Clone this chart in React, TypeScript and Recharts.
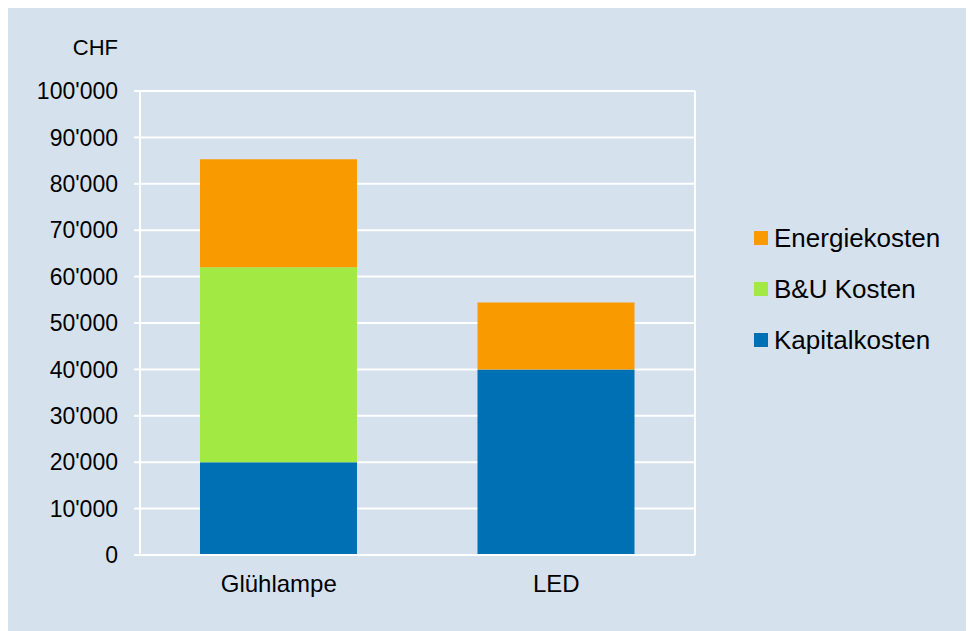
import React from 'react';
import { BarChart, Bar, XAxis, YAxis, CartesianGrid, Label } from 'recharts';

const categories = ['Glühlampe', 'LED'];
const kapitalkosten = [20000, 40000];
const buKosten = [42000, 0];
const energiekosten = [23300, 14400];
const yTicks = [0, 10000, 20000, 30000, 40000, 50000, 60000, 70000, 80000, 90000, 100000];
const unitLabel = 'CHF';

const seriesDefs = [
  { key: 'kapital', name: 'Kapitalkosten', color: '#0070b4', values: kapitalkosten },
  { key: 'bu', name: 'B&U Kosten', color: '#a3e943', values: buKosten },
  { key: 'energie', name: 'Energiekosten', color: '#f99a00', values: energiekosten },
];

const data = categories.map((c, i) => {
  const row: Record<string, string | number> = { name: c };
  seriesDefs.forEach((s) => {
    row[s.key] = s.values[i];
  });
  return row;
});

const FONT = '"Liberation Sans", Arial, sans-serif';

const fmt = (v: number) => (v === 0 ? '0' : `${Math.round(v / 1000)}'000`);

export default function App() {
  return (
    <div style={{ position: 'relative', width: 966, height: 623, background: '#d6e1ee', fontFamily: FONT }}>
      <style>{`body{overflow:hidden}`}</style>
      <BarChart
        width={966}
        height={623}
        data={data}
        margin={{ top: 83, right: 279, left: 0, bottom: 16 }}
      >
        <CartesianGrid
          stroke="#ffffff"
          strokeWidth={2}
          vertical={true}
          verticalCoordinatesGenerator={({ offset }: any) => [offset.left, offset.left + offset.width]}
        />
        <XAxis
          dataKey="name"
          height={60}
          tickLine={false}
          tickSize={0}
          tickMargin={20}
          axisLine={{ stroke: '#ffffff', strokeWidth: 2 }}
          tick={{ fill: '#000', fontSize: 24, fontFamily: FONT }}
        />
        <YAxis
          width={132}
          domain={[0, 100000]}
          ticks={yTicks}
          interval={0}
          tickFormatter={fmt}
          tickSize={6}
          tickMargin={16}
          tickLine={{ stroke: '#ffffff', strokeWidth: 2 }}
          axisLine={{ stroke: '#ffffff', strokeWidth: 2 }}
          tick={{ fill: '#000', fontSize: 23, fontFamily: FONT }}
        >
          <Label
            content={({ viewBox }: any) => (
              <text
                x={viewBox.x + viewBox.width - 22}
                y={viewBox.y - 44}
                textAnchor="end"
                dominantBaseline="central"
                fill="#000"
                fontSize={22}
                fontFamily={FONT}
              >
                {unitLabel}
              </text>
            )}
          />
        </YAxis>
        {seriesDefs.map((s) => (
          <Bar
            key={s.key}
            dataKey={s.key}
            name={s.name}
            stackId="a"
            fill={s.color}
            barSize={157}
            isAnimationActive={false}
          />
        ))}
      </BarChart>
      <div style={{ position: 'absolute', left: 746, top: 204, width: 220 }}>
        {[...seriesDefs].reverse().map((s) => (
          <div key={s.key} style={{ display: 'flex', alignItems: 'center', height: 51 }}>
            <div style={{ width: 14, height: 14, background: s.color, marginRight: 6 }} />
            <span style={{ fontSize: 26, color: '#000', lineHeight: '30px' }}>{s.name}</span>
          </div>
        ))}
      </div>
    </div>
  );
}
